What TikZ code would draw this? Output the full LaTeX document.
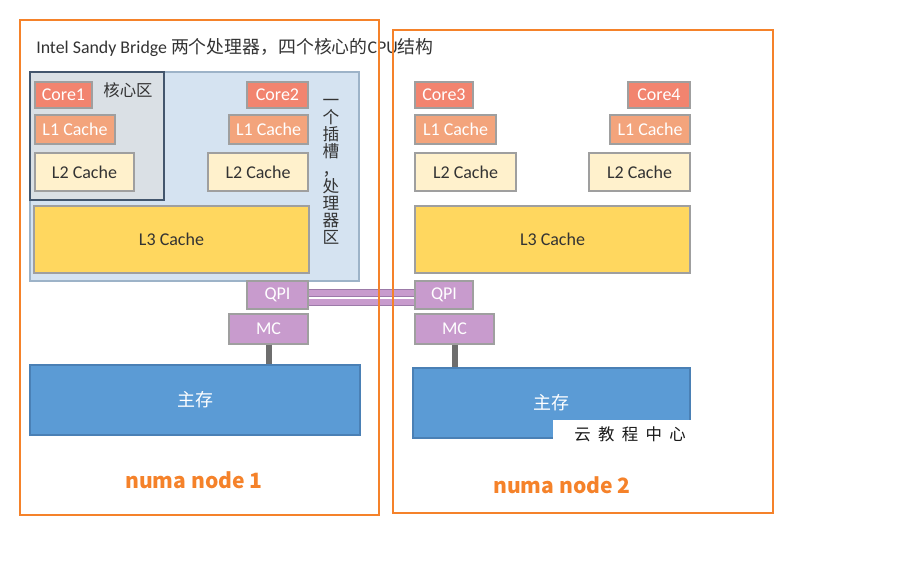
\documentclass[tikz,border=0pt]{standalone}
\usepackage{fontspec}
\setmainfont{Carlito}
\newfontfamily\cjk{Noto Sans CJK SC}
\usetikzlibrary{fit}

\definecolor{numaC}{HTML}{F5822A}
\definecolor{sockC}{HTML}{D5E3F1}
\definecolor{sockD}{HTML}{9DB3C8}
\definecolor{areaC}{HTML}{DAE0E5}
\definecolor{areaD}{HTML}{43566D}
\definecolor{coreC}{HTML}{F2846F}
\definecolor{loneC}{HTML}{F3A47C}
\definecolor{ltwoC}{HTML}{FFF1CC}
\definecolor{lthreeC}{HTML}{FFD75F}
\definecolor{busC}{HTML}{C89BCD}
\definecolor{busD}{HTML}{9C7AA8}
\definecolor{memC}{HTML}{5B9BD5}
\definecolor{memD}{HTML}{4A80B5}
\definecolor{darkT}{HTML}{333333}
\definecolor{linkC}{HTML}{6E6E6E}

\tikzset{
  lab/.style={inner sep=0pt, font=\fontsize{13.5}{16}\selectfont},
  wlab/.style={lab, text=white},
  dlab/.style={lab, text=darkT},
  mlab/.style={lab, text=white, font=\cjk\fontsize{13.5}{16}\selectfont},
  wtxt/.style={label={[wlab]center:#1}},
  dtxt/.style={label={[dlab]center:#1}},
  mtxt/.style={label={[mlab]center:#1}},
  box/.style={draw=gray!75, line width=0.8pt, inner sep=0pt},
  core/.style={box, fill=coreC},
  lone/.style={box, fill=loneC},
  ltwo/.style={box, fill=ltwoC},
  lthree/.style={box, fill=lthreeC},
  bus/.style={box, fill=busC},
  mem/.style={box, draw=memD, fill=memC},
  socket/.style={draw=sockD, fill=sockC, line width=0.8pt, inner sep=0pt},
  corearea/.style={draw=areaD, fill=areaC, line width=1.5pt, inner sep=0pt},
  numabox/.style={draw=numaC, line width=2pt},
  numalabel/.style={text=numaC, font=\cjk\bfseries\fontsize{15.8}{18}\selectfont},
  qpilink/.style={draw=busD, line width=0.6pt, double=busC, double distance=4.5pt},
  memlink/.style={draw=linkC, line width=4.5pt},
  cjklabel/.style={text=darkT, inner sep=0pt, font=\cjk\fontsize{12.3}{14}\selectfont}
}

\begin{document}
\begin{tikzpicture}[x=0.75pt,y=-0.75pt]
\fill[white] (0,0) rectangle (904,566);
\useasboundingbox (0,0) rectangle (904,566);

% title
\node[anchor=west, inner sep=0pt, text=darkT, font=\fontsize{13.4}{16}\selectfont] (title) at (36,48)
  {Intel Sandy Bridge {\cjk 两个处理器，四个核心的}CPU{\cjk 结构}};

% numa node 1
\node[socket, fit={(30,72) (359,281)}] (sock1) {};
\node[corearea, fit={(30,72) (164,200)}] (area1) {};
\node[cjklabel] (arealabel) at (128,90) {核心区};
\node[cjklabel, align=center, font=\cjk\fontsize{12.5}{12.9}\selectfont] (socklabel) at (331,172)
  {一\\个\\插\\槽\\，\\处\\理\\器\\区};

\node[core, fit={(35,82) (92,108)}, wtxt=Core1] (core1) {};
\node[lone, fit={(35,115) (115,144)}, wtxt=L1 Cache] (lone1) {};
\node[ltwo, fit={(35,153) (134,191)}, dtxt=L2 Cache] (ltwo1) {};
\node[core, fit={(247,82) (308,108)}, wtxt=Core2] (core2) {};
\node[lone, fit={(229,115) (308,144)}, wtxt=L1 Cache] (lone2) {};
\node[ltwo, fit={(208,153) (308,191)}, dtxt=L2 Cache] (ltwo2) {};
\node[lthree, fit={(34,206) (309,273)}, dtxt=L3 Cache] (lthree1) {};
\node[bus, fit={(247,281) (308,309)}, wtxt=QPI] (qpi1) {};
\node[bus, fit={(229,314) (308,344)}, wtxt=MC] (mc1) {};
\node[mem, fit={(30,365) (360,435)}, mtxt=主存] (mem1) {};

% numa node 2
\node[core, fit={(415,82) (473,108)}, wtxt=Core3] (core3) {};
\node[lone, fit={(415,115) (496,144)}, wtxt=L1 Cache] (lone3) {};
\node[ltwo, fit={(415,153) (516,191)}, dtxt=L2 Cache] (ltwo3) {};
\node[core, fit={(628,82) (690,108)}, wtxt=Core4] (core4) {};
\node[lone, fit={(610,115) (690,144)}, wtxt=L1 Cache] (lone4) {};
\node[ltwo, fit={(589,153) (690,191)}, dtxt=L2 Cache] (ltwo4) {};
\node[lthree, fit={(415,206) (690,273)}, dtxt=L3 Cache] (lthree2) {};
\node[bus, fit={(415,281) (473,309)}, wtxt=QPI] (qpi2) {};
\node[bus, fit={(415,314) (494,344)}, wtxt=MC] (mc2) {};
\node[mem, fit={(413,368) (690,438)}, mtxt=主存] (mem2) {};
\fill[white] (553,420) rectangle (693,442);
\node[text=black!90, font=\cjk\fontsize{12.3}{14}\selectfont] (wmark) at (630,434)
  {云\hspace{5.5pt}教\hspace{5.5pt}程\hspace{5.5pt}中\hspace{5.5pt}心};

% links
\draw[qpilink] (qpi1.east |- 0,293) -- (qpi2.west |- 0,293);
\draw[qpilink] (qpi1.east |- 0,302.5) -- (qpi2.west |- 0,302.5);
\draw[memlink] (mc1.south) -- (mc1.south |- mem1.north);
\draw[memlink] (mc2.south) -- (mc2.south |- mem2.north);

% numa frames
\draw[numabox] (20,20) rectangle (379,515);
\draw[numabox] (393,30) rectangle (773,513);
\node[numalabel] (numa1) at (194,480) {numa node 1};
\node[numalabel] (numa2) at (562,485) {numa node 2};
\end{tikzpicture}
\end{document}
